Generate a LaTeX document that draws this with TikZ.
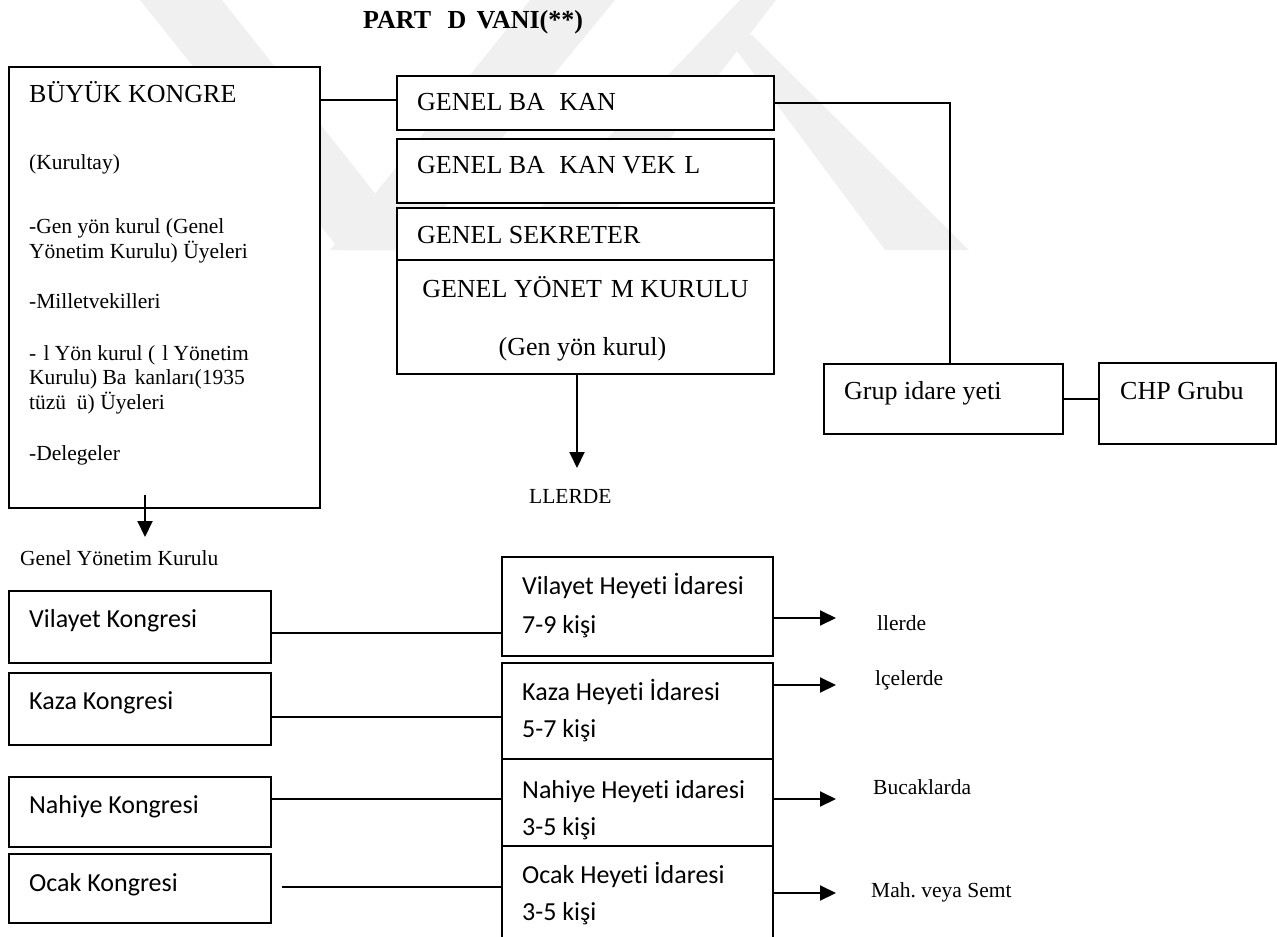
\documentclass[tikz,border=0pt]{standalone}
\usepackage{fontspec}
\setmainfont{Liberation Serif}
\newfontfamily\calfont[Ligatures=NoCommon]{Carlito}
\usetikzlibrary{arrows.meta}

\begin{document}
\begin{tikzpicture}[x=1pt,y=-1pt,>={Triangle[length=16pt,width=15pt]},
		box/.style={draw,line width=2pt,fill=white,inner sep=0pt,outer sep=0pt,anchor=north west},
		bigtxt/.style={anchor=base west,inner sep=0pt,font=\fontsize{26}{30}\selectfont},
		smalltxt/.style={anchor=base west,inner sep=0pt,font=\fontsize{21.5}{25}\selectfont},
		caltxt/.style={anchor=base west,inner sep=0pt,font=\calfont\fontsize{26}{30}\selectfont},
		conn/.style={line width=2pt},
		wmark/.style={fill=black!6}]
		
		\useasboundingbox (0,0) rectangle (1277,937);
		\clip (0,0) rectangle (1277,937);
		
		% watermark
		\path[wmark] (140,0) -- (222,0) -- (420,250) -- (340,250) -- cycle;
		\path[wmark] (530,0) -- (615,0) -- (410,250) -- (330,250) -- cycle;
		\path[wmark] (740,0) -- (776,0) -- (585,250) -- (500,250) -- cycle;
		\path[wmark] (725,35) -- (752,35) -- (969,250) -- (885,250) -- cycle;
		
		\node[bigtxt,font=\bfseries\fontsize{26}{30}\selectfont] (title) at (363,28) {PART\phantom{İ} D\phantom{İ}VANI(**)};
		
		% left column
		\node[box,minimum width=311pt,minimum height=441pt] (buyuk) at (9,67) {};
		\node[bigtxt] (buyuk1) at ([shift={(20,35)}]buyuk.north west) {BÜYÜK KONGRE};
		\node[smalltxt] (buyuk2) at ([shift={(20,102)}]buyuk.north west) {(Kurultay)};
		\node[smalltxt] (buyuk3) at ([shift={(20,166)}]buyuk.north west) {-Gen yön kurul (Genel};
		\node[smalltxt] (buyuk4) at ([shift={(20,191)}]buyuk.north west) {Yönetim Kurulu) Üyeleri};
		\node[smalltxt] (buyuk5) at ([shift={(20,241)}]buyuk.north west) {-Milletvekilleri};
		\node[smalltxt] (buyuk6) at ([shift={(20,293)}]buyuk.north west) {-\phantom{İ}l Yön kurul (\phantom{İ}l Yönetim};
		\node[smalltxt] (buyuk7) at ([shift={(20,317)}]buyuk.north west) {Kurulu) Ba\phantom{ş}kanları(1935};
		\node[smalltxt] (buyuk8) at ([shift={(20,342)}]buyuk.north west) {tüzü\phantom{ğ}ü) Üyeleri};
		\node[smalltxt] (buyuk9) at ([shift={(20,393)}]buyuk.north west) {-Delegeler};
		\node[smalltxt] (gyklabel) at (20,565) {Genel Yönetim Kurulu};
		
		% middle column
		\node[box,minimum width=377pt,minimum height=54pt] (gb) at (397,76) {};
		\node[bigtxt] (gbT) at ([shift={(20,34)}]gb.north west) {GENEL BA\phantom{Ş}KAN};
		\node[box,minimum width=377pt,minimum height=64pt] (gbv) at (397,139) {};
		\node[bigtxt] (gbvT) at ([shift={(20,34)}]gbv.north west) {GENEL BA\phantom{Ş}KAN VEK\phantom{İ}L};
		\node[box,minimum width=377pt,minimum height=52pt] (gs) at (397,208) {};
		\node[bigtxt] (gsT) at ([shift={(20,35)}]gs.north west) {GENEL SEKRETER};
		\node[box,minimum width=377pt,minimum height=114pt] (gyk) at (397,260) {};
		\node[bigtxt,anchor=base] (gykT) at ([shift={(0,37)}]gyk.north) {GENEL YÖNET\phantom{İ}M KURULU};
		\node[bigtxt,anchor=base] (gykT2) at ([shift={(-3,95)}]gyk.north) {(Gen yön kurul)};
		\node[smalltxt] (illerde) at (529,503) {LLERDE};
		
		% right
		\node[box,minimum width=239pt,minimum height=70pt] (grup) at (824,364) {};
		\node[bigtxt] (grupT) at ([shift={(20,35)}]grup.north west) {Grup idare yeti};
		\node[box,minimum width=177pt,minimum height=81pt] (chp) at (1099,363) {};
		\node[bigtxt] (chpT) at ([shift={(21,36)}]chp.north west) {CHP Grubu};
		
		% lower part
		\node[box,minimum width=262pt,minimum height=72pt] (vk) at (9,591) {};
		\node[caltxt] (vkT) at ([shift={(20,36)}]vk.north west) {Vilayet Kongresi};
		\node[box,minimum width=262pt,minimum height=72pt] (kk) at (9,673) {};
		\node[caltxt] (kkT) at ([shift={(20,36)}]kk.north west) {Kaza Kongresi};
		\node[box,minimum width=262pt,minimum height=70pt] (nk) at (9,777) {};
		\node[caltxt] (nkT) at ([shift={(20,36)}]nk.north west) {Nahiye Kongresi};
		\node[box,minimum width=262pt,minimum height=69pt] (ok) at (9,854) {};
		\node[caltxt] (okT) at ([shift={(20,37)}]ok.north west) {Ocak Kongresi};
		
		\node[box,minimum width=271pt,minimum height=99pt] (vh) at (502,557) {};
		\node[caltxt] (vhT) at ([shift={(20,37)}]vh.north west) {Vilayet Heyeti İdaresi};
		\node[caltxt] (vhT2) at ([shift={(20,76)}]vh.north west) {7-9 kişi};
		\node[box,minimum width=271pt,minimum height=96pt] (kh) at (502,663) {};
		\node[caltxt] (khT) at ([shift={(20,37)}]kh.north west) {Kaza Heyeti İdaresi};
		\node[caltxt] (khT2) at ([shift={(20,74)}]kh.north west) {5-7 kişi};
		\node[box,minimum width=271pt,minimum height=87pt] (nh) at (502,759) {};
		\node[caltxt] (nhT) at ([shift={(20,39)}]nh.north west) {Nahiye Heyeti idaresi};
		\node[caltxt] (nhT2) at ([shift={(20,76)}]nh.north west) {3-5 kişi};
		\node[box,minimum width=271pt,minimum height=150pt] (oh) at (502,846) {};
		\node[caltxt] (ohT) at ([shift={(20,37)}]oh.north west) {Ocak Heyeti İdaresi};
		\node[caltxt] (ohT2) at ([shift={(20,74)}]oh.north west) {3-5 kişi};
		
		\node[smalltxt] (iller) at (877,630) {llerde};
		\node[smalltxt] (ilce) at (875,685) {lçelerde};
		\node[smalltxt] (bucak) at (873,794) {Bucaklarda};
		\node[smalltxt] (semt) at (871,897) {Mah.\ veya Semt};
		
		% free arrow ends
		\coordinate (buyukend) at (145,537);
		\coordinate (gykend) at (577,468);
		
		\draw[conn] ([yshift=3pt]gb.west) -- ([yshift=3pt]gb.west -| buyuk.east);
		\draw[conn] (gb.east) -| ([xshift=6pt]grup.north);
		\draw[conn] (grup.east) -- (grup.east -| chp.west);
		\draw[conn,->] (buyukend |- buyuk.south) ++(0,-13) -- (buyukend);
		\draw[conn,->] (gykend |- gyk.south) -- (gykend);
		
		\draw[conn] ([yshift=-6pt]vk.east) -- ([yshift=-6pt]vk.east -| vh.west);
		\draw[conn] ([yshift=-8pt]kk.east) -- ([yshift=-8pt]kk.east -| kh.west);
		\draw[conn] ([yshift=13pt]nk.east) -- ([yshift=13pt]nk.east -| nh.west);
		\draw[conn] ([shift={(11,-1.5)}]ok.east) -- ([yshift=1.5pt]ok.east -| oh.west);
		
		\draw[conn,->] ([yshift=-11.5pt]vh.east) -- ++(63,0);
		\draw[conn,->] ([yshift=26pt]kh.east) -- ++(63,0);
		\draw[conn,->] ([yshift=3.5pt]nh.east) -- ++(63,0);
		\draw[conn,->] ([yshift=28pt]oh.east) -- ++(63,0);
		
	\end{tikzpicture}
\end{document}
